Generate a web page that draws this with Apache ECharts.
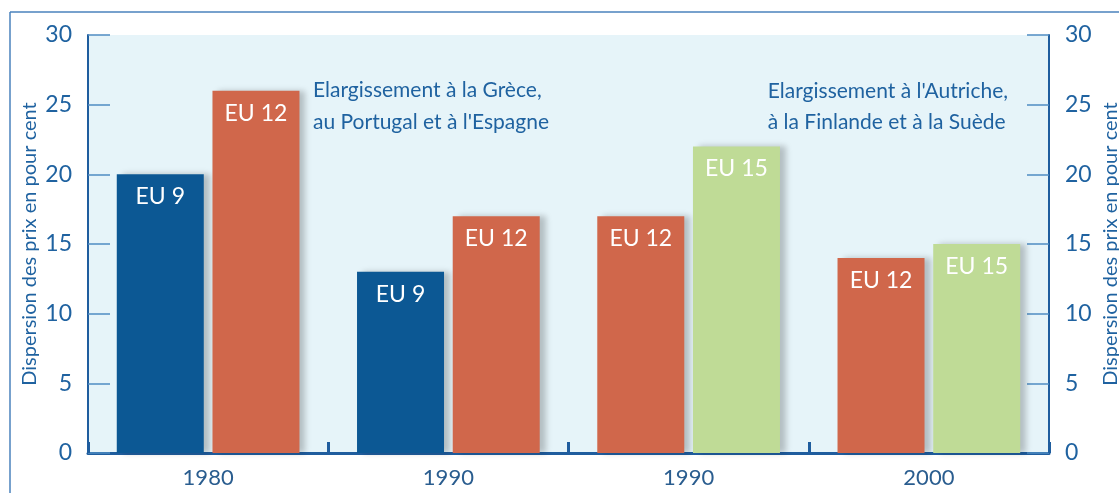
<!DOCTYPE html>
<html>
<head>
<meta charset="utf-8">
<script src="https://cdn.jsdelivr.net/npm/echarts@6/dist/echarts.min.js"></script>
<style>html,body{margin:0;padding:0;background:#fff}#c{width:1119px;height:493px}</style>
</head>
<body>
<div id="c"></div>
<script>
const categories = ['1980', '1990', '1990', '2000'];
const firstValues = [20, 13, 17, 14];
const firstLabels = ['EU 9', 'EU 9', 'EU 12', 'EU 12'];
const secondValues = [26, 17, 22, 15];
const secondLabels = ['EU 12', 'EU 12', 'EU 15', 'EU 15'];
const yTicks = [0, 5, 10, 15, 20, 25, 30];
const yName = 'Dispersion des prix en pour cent';
const noteLeft = 'Elargissement à la Grèce,\nau Portugal et à l\'Espagne';
const noteRight = 'Elargissement à l\'Autriche,\nà la Finlande et à la Suède';

const C = {blue:'#0c5894', orange:'#d0674b', green:'#bfdb96', text:'#1f62a0', axis:'#1f5d9e', tick:'#4f8cc2', bg:'#e6f4f9'};
const colorOf = {'EU 9':C.blue, 'EU 12':C.orange, 'EU 15':C.green};
const FONT = 'Lato';

function mk(vals, labs) {
  return vals.map((v, i) => ({value: v, name: labs[i], itemStyle: {color: colorOf[labs[i]]}}));
}
const barStyle = {shadowColor:'rgba(0,0,0,0.22)', shadowBlur:6, shadowOffsetX:6, shadowOffsetY:0};
const lbl = {show:true, position:'insideTop', distance:11, color:'#fff', fontSize:23, fontFamily:FONT, formatter: p => p.name};

function yAxis(pos) {
  return {
    type:'value', position:pos, min:yTicks[0], max:yTicks[yTicks.length-1], interval:5,
    name:yName, nameLocation:'middle', nameRotate:90, nameGap: pos==='left' ? 48 : 52,
    nameMoveOverlap:false,
    nameTextStyle:{color:C.text, fontSize:20, fontFamily:FONT},
    axisLine:{show:true, lineStyle:{color:C.axis, width:2}},
    axisTick:{show:true, inside:true, length:22, lineStyle:{color:C.tick, width:1.5}},
    axisLabel:{color:C.text, fontSize:23, fontFamily:FONT, margin: 16},
    splitLine:{show:false}
  };
}

const chart = echarts.init(document.getElementById('c'));
chart.setOption({
  animation:false,
  grid:{left:88, right:70, top:35, bottom:40, show:true, backgroundColor:C.bg, borderWidth:0, containLabel:false, outerBoundsMode:'none'},
  xAxis:{
    type:'category', data:categories,
    axisLine:{lineStyle:{color:C.axis, width:3}},
    axisTick:{show:true, inside:true, length:11, lineStyle:{color:C.axis, width:3}, interval:0},
    axisLabel:{color:'#2a5d8f', fontSize:22, fontFamily:FONT, margin:14},
    splitLine:{show:true, interval:(i)=> i===2, lineStyle:{color:'#a9c8e6', width:1}}
  },
  yAxis:[yAxis('left'), yAxis('right')],
  series:[
    {type:'bar', data:mk(firstValues, firstLabels), barWidth:87, barGap:'10%', label:lbl, itemStyle:barStyle, z:3},
    {type:'bar', data:mk(secondValues, secondLabels), barWidth:87, barGap:'10%', label:lbl, itemStyle:barStyle, z:3}
  ],
  graphic:[
    {type:'line', shape:{x1:10, y1:12, x2:10, y2:493}, style:{stroke:'#4a82bc', lineWidth:1.5}},
    {type:'line', shape:{x1:10, y1:12, x2:1119, y2:12}, style:{stroke:'#4a82bc', lineWidth:1.5}},
    {type:'text', left:313, top:74, style:{text:noteLeft, fill:C.text, font:'21px '+FONT, lineHeight:32}},
    {type:'text', right:111, top:76, style:{text:noteRight, fill:C.text, font:'21px '+FONT, lineHeight:31, align:'right'}}
  ]
});
</script>
</body>
</html>
